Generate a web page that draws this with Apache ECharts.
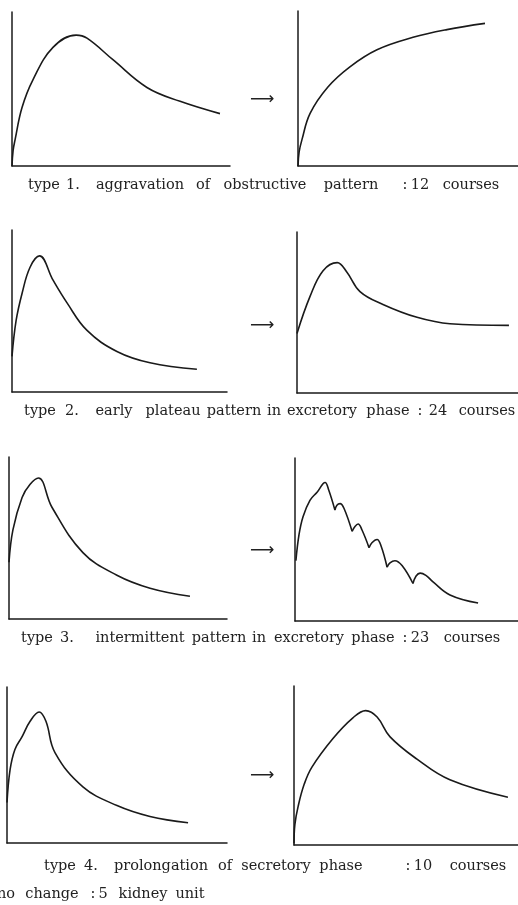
<!DOCTYPE html>
<html>
<head>
<meta charset="utf-8">
<title>renogram patterns</title>
<script src="https://cdn.jsdelivr.net/npm/echarts@6.0.0/dist/echarts.min.js"></script>
<style>
  html, body { margin: 0; padding: 0; background: #fff; }
  #main { width: 518px; height: 905px; }
</style>
</head>
<body>
<div id="main"></div>
<script>
// 曲线数据：x、y 都按坐标轴长度的百分比 (0-100) 读出
var type1Before = [[0,0],[0.5,10],[1.4,17],[4.6,38],[9.6,56],[18.8,77],[29.4,85],[34.4,83],[46.3,69],[61.9,51],[77.1,42],[95.4,34]];
var type1After  = [[0,0],[0.5,9],[1.8,17],[5.5,34],[13.6,51],[23.6,64],[35.9,75],[52.3,83],[67.7,88],[85,92]];

var type2Before = [[0,22],[1.9,44],[4.7,61],[8.4,77],[12.8,84],[19.1,69],[25.6,55],[34.9,38],[48.8,25],[64.2,18],[86,14]];
var type2After  = [[0,37],[5.9,60],[11.8,76],[18.2,81],[22.6,75],[28.5,63],[38.9,55],[54.3,47],[69.2,43],[95.9,42]];

var type3Before = [[0,35],[1.8,55],[6,75],[9.6,83],[13.5,87],[19.7,69],[33.9,41],[49.5,27],[64.7,19],[83,14]];
var type3After  = [[0.4,37],[1.8,53],[3.6,64],[6.7,74],[9.9,79],[13.5,85],[15.2,80],[17.9,68],
                   [18.8,71],[20.2,72],[22,69],[25.6,55],
                   [26.9,58],[28.3,59.5],[30,56],[33.2,45],
                   [34.5,48],[36.8,50],[38.6,46],[41.3,33],
                   [42.6,35.6],[44.8,37],[48,34],[52.9,23],
                   [54.3,27.6],[56.1,29.4],[58.7,28],[61.9,24],[69.5,16],[82.1,11]];
var type3Cusps  = [7, 11, 15, 19, 23]; // 间歇性曲线的尖角位置 (type3After 的下标)

var type4Before = [[0,26],[1.4,47],[3.6,60],[6.8,68],[10.5,78],[14.6,84],[17.7,78],[21.8,58],[34.5,36],[50,24],[65,17],[82.3,13]];
var type4After  = [[0,1],[0.4,13],[1.8,24],[4.5,38],[8,49],[17.4,67],[26.3,80],[32,84.5],[37.1,80.5],[42.9,68],[54.9,54],[69.6,41],[95.5,30]];

// 文字（按词拆开，位置照原图，x 为每个词的中心）
var captionWords = [
  ['type', '1.', 'aggravation', 'of', 'obstructive', 'pattern', ':', '12', 'courses'],
  ['type', '2.', 'early', 'plateau', 'pattern', 'in', 'excretory', 'phase', ':', '24', 'courses'],
  ['type', '3.', 'intermittent', 'pattern', 'in', 'excretory', 'phase', ':', '23', 'courses'],
  ['type', '4.', 'prolongation', 'of', 'secretory', 'phase', ':', '10', 'courses'],
  ['no', 'change', ':', '5', 'kidney', 'unit']
];
var captionX = [
  [44, 73, 140, 203, 265, 351, 405, 420, 471],
  [40, 72, 114, 173, 234, 274, 322, 388, 420, 438, 487],
  [37, 67, 140, 219, 259, 309, 373, 405, 420, 472],
  [60, 91, 161, 225, 276, 341, 408, 423, 478],
  [6, 52, 93, 103, 143, 190]
];
var captionY = [185, 411, 638, 866, 894];

// 每个小图坐标轴的位置 [left, top, width, height]
var boxes = [
  [12, 12, 218, 154], [298, 11, 220, 155],
  [12, 230, 215, 162], [297, 232, 221, 161],
  [9, 457, 218, 162], [295, 458, 223, 163],
  [7, 687, 220, 156], [294, 686, 224, 159]
];
var arrowY = [100, 326, 551, 776];

var curves = [type1Before, type1After, type2Before, type2After, type3Before, type3After, type4Before, type4After];

var grids = [], xAxes = [], yAxes = [], series = [], graphic = [];
var ink = '#1a1a1a';

function $each(arr, fn) { for (var i = 0; i < arr.length; i++) fn(i, arr[i]); }

$each(boxes, function(i, b) {
  grids.push({ left: b[0], top: b[1], width: b[2], height: b[3] });
  xAxes.push({ type: 'value', gridIndex: i, min: 0, max: 100,
    axisLine: { show: true, lineStyle: { color: ink, width: 1.5 } },
    axisTick: { show: false }, axisLabel: { show: false }, splitLine: { show: false } });
  yAxes.push({ type: 'value', gridIndex: i, min: 0, max: 100,
    axisLine: { show: true, lineStyle: { color: ink, width: 1.5 } },
    axisTick: { show: false }, axisLabel: { show: false }, splitLine: { show: false } });
});

function addLine(idx, data) {
  series.push({ type: 'line', xAxisIndex: idx, yAxisIndex: idx, data: data,
    smooth: 0.4, symbol: 'none', silent: true,
    lineStyle: { color: ink, width: 1.6 } });
}

$each(curves, function(i, c) {
  if (c === type3After) {
    // 在尖角处断开，每段单独平滑
    var cuts = [0].concat(type3Cusps).concat([c.length - 1]);
    for (var k = 0; k < cuts.length - 1; k++) {
      addLine(i, c.slice(cuts[k], cuts[k + 1] + 1));
    }
  } else {
    addLine(i, c);
  }
});

$each(captionWords, function(i, words) {
  $each(words, function(j, w) {
    graphic.push({ type: 'text', x: captionX[i][j], y: captionY[i],
      style: { text: w, fill: '#222', font: '14.5px "DejaVu Serif"', textAlign: 'center', textVerticalAlign: 'middle' } });
  });
});
$each(arrowY, function(i, y) {
  graphic.push({ type: 'text', x: 250, y: y,
    style: { text: '\u27F6', fill: '#222', font: '17px "DejaVu Sans"', textVerticalAlign: 'middle' } });
});

var myChart = echarts.init(document.getElementById('main'));
myChart.setOption({
  animation: false,
  backgroundColor: '#fff',
  grid: grids,
  xAxis: xAxes,
  yAxis: yAxes,
  series: series,
  graphic: graphic
});
</script>
</body>
</html>
